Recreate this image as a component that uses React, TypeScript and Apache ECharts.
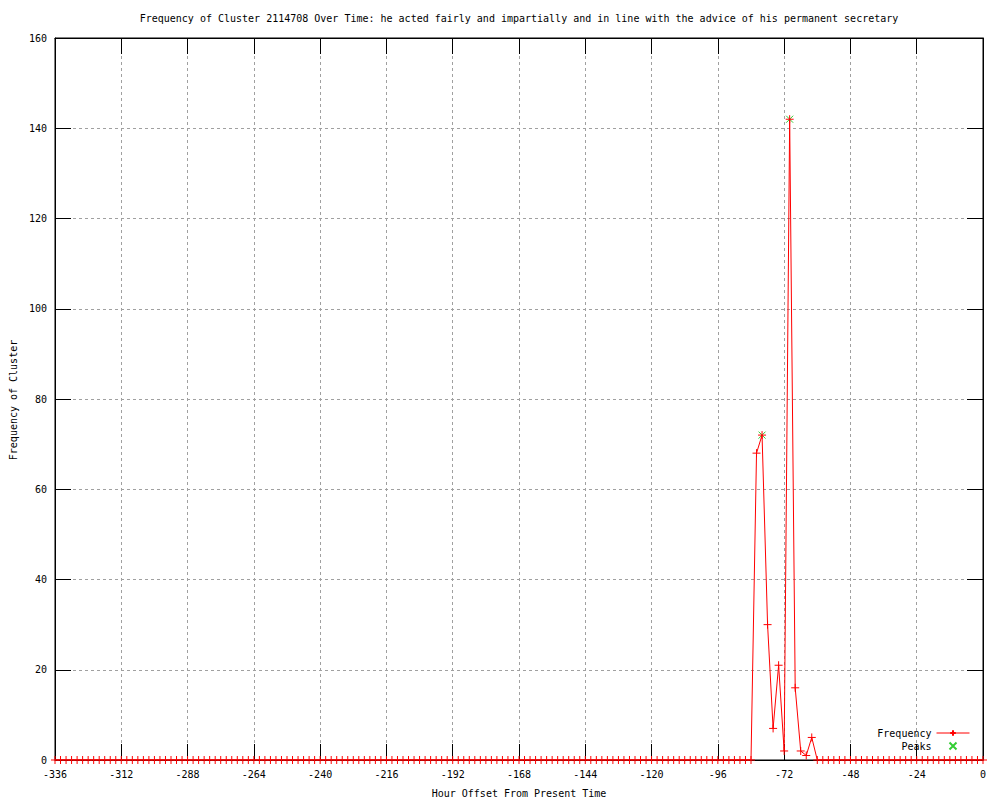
import React, { useEffect, useRef } from "react";
import * as echarts from "echarts";

const TITLE =
  "Frequency of Cluster 2114708 Over Time: he acted fairly and impartially and in line with the advice of his permanent secretary";
const X_NAME = "Hour Offset From Present Time";
const Y_NAME = "Frequency of Cluster";

// sampling grid: one point every 2 hours from -336 to 0
const HOUR_START = -336;
const HOUR_STEP = 2;

// frequency per 2-hour bin (169 bins, -336 .. 0)
const frequency: number[] = [
  0, 0, 0, 0, 0, 0, 0, 0, 0, 0, 0, 0, 0, 0, 0, 0, 0, 0, 0, 0,
  0, 0, 0, 0, 0, 0, 0, 0, 0, 0, 0, 0, 0, 0, 0, 0, 0, 0, 0, 0,
  0, 0, 0, 0, 0, 0, 0, 0, 0, 0, 0, 0, 0, 0, 0, 0, 0, 0, 0, 0,
  0, 0, 0, 0, 0, 0, 0, 0, 0, 0, 0, 0, 0, 0, 0, 0, 0, 0, 0, 0,
  0, 0, 0, 0, 0, 0, 0, 0, 0, 0, 0, 0, 0, 0, 0, 0, 0, 0, 0, 0,
  0, 0, 0, 0, 0, 0, 0, 0, 0, 0, 0, 0, 0, 0, 0, 0, 0, 0, 0, 0,
  0, 0, 0, 0, 0, 0, 0,
  68, 72, 30, 7, 21, 2, 142, 16, 2, 1, 5,
  0, 0, 0, 0, 0, 0, 0, 0, 0, 0, 0, 0, 0, 0, 0, 0, 0, 0, 0, 0,
  0, 0, 0, 0, 0, 0, 0, 0, 0, 0, 0,
];

const peakHours: number[] = [-80, -70];
const peakValues: number[] = [72, 142];

const X_MIN = -336;
const X_MAX = 0;
const X_INTERVAL = 24;
const Y_MIN = 0;
const Y_MAX = 160;
const Y_INTERVAL = 20;

const FONT = "'DejaVu Sans Mono', 'Liberation Mono', monospace";
const PLUS = "path://M5,0L5,10M0,5L10,5";
const CROSS = "path://M0,0L10,10M10,0L0,10";

export default function App() {
  const ref = useRef<HTMLDivElement>(null);

  useEffect(() => {
    if (!ref.current) return;
    const chart = echarts.init(ref.current, undefined, { renderer: "svg" });

    const freqData = frequency.map((v, i) => [HOUR_START + i * HOUR_STEP, v]);
    const peakData = peakHours.map((h, i) => [h, peakValues[i]]);

    const tickStyle = { show: true, inside: true, length: 16, lineStyle: { color: "#000", width: 1 } };
    const splitStyle = { show: true, lineStyle: { color: "#a0a0a0", width: 1, type: [3, 3] as any } };

    chart.setOption({
      animation: false,
      backgroundColor: "#fff",
      grid: {
        left: 55,
        right: 17,
        top: 38,
        bottom: 40,
        show: true,
        borderColor: "#000",
        borderWidth: 1,
        backgroundColor: "transparent",
      },
      xAxis: [
        {
          type: "value",
          min: X_MIN,
          max: X_MAX,
          interval: X_INTERVAL,
          position: "bottom",
          axisLine: { show: true, onZero: false, lineStyle: { color: "#000", width: 1 } },
          axisTick: tickStyle,
          axisLabel: { color: "#000", fontFamily: FONT, fontSize: 10, margin: 9 },
          splitLine: splitStyle,
        },
        {
          type: "value",
          min: X_MIN,
          max: X_MAX,
          interval: X_INTERVAL,
          position: "top",
          axisLine: { show: true, onZero: false, lineStyle: { color: "#000", width: 1 } },
          axisTick: tickStyle,
          axisLabel: { show: false },
          splitLine: { show: false },
        },
      ],
      yAxis: [
        {
          type: "value",
          min: Y_MIN,
          max: Y_MAX,
          interval: Y_INTERVAL,
          position: "left",
          axisLine: { show: true, onZero: false, lineStyle: { color: "#000", width: 1 } },
          axisTick: tickStyle,
          axisLabel: { color: "#000", fontFamily: FONT, fontSize: 10, margin: 8 },
          splitLine: splitStyle,
        },
        {
          type: "value",
          min: Y_MIN,
          max: Y_MAX,
          interval: Y_INTERVAL,
          position: "right",
          axisLine: { show: true, onZero: false, lineStyle: { color: "#000", width: 1 } },
          axisTick: tickStyle,
          axisLabel: { show: false },
          splitLine: { show: false },
        },
      ],
      legend: {
        orient: "vertical",
        right: 30,
        top: 727,
        align: "right",
        padding: 0,
        itemGap: 1,
        itemWidth: 33,
        itemHeight: 7,
        lineStyle: { width: 1 },
        textStyle: { fontFamily: FONT, fontSize: 10, color: "#000", lineHeight: 12 },
        data: ["Frequency", "Peaks"],
      },
      graphic: [
        {
          type: "text",
          x: 519,
          y: 18,
          style: {
            text: TITLE,
            fill: "#000",
            font: `10px ${FONT}`,
            textAlign: "center",
            textVerticalAlign: "middle",
          },
        },
        {
          type: "text",
          x: 519,
          y: 793,
          style: {
            text: X_NAME,
            fill: "#000",
            font: `10px ${FONT}`,
            textAlign: "center",
            textVerticalAlign: "middle",
          },
        },
        {
          type: "text",
          x: 13,
          y: 400,
          rotation: Math.PI / 2,
          style: {
            text: Y_NAME,
            fill: "#000",
            font: `10px ${FONT}`,
            textAlign: "center",
            textVerticalAlign: "middle",
          },
        },
      ],
      series: [
        {
          name: "Frequency",
          type: "line",
          xAxisIndex: 0,
          yAxisIndex: 0,
          data: freqData,
          showSymbol: true,
          showAllSymbol: true,
          symbol: PLUS,
          symbolSize: 8,
          lineStyle: { color: "#ff0000", width: 1 },
          itemStyle: { color: "none", borderColor: "#ff0000", borderWidth: 1 },
          emphasis: { disabled: true },
          z: 4,
        },
        {
          name: "Peaks",
          type: "scatter",
          xAxisIndex: 0,
          yAxisIndex: 0,
          data: peakData,
          symbol: CROSS,
          symbolSize: 7,
          itemStyle: { color: "none", borderColor: "#00c000", borderWidth: 1 },
          emphasis: { disabled: true },
          z: 3,
        },
      ],
    });

    return () => chart.dispose();
  }, []);

  return (
    <div
      ref={ref}
      style={{ position: "absolute", left: 0, top: 0, width: 1000, height: 800 }}
    />
  );
}
